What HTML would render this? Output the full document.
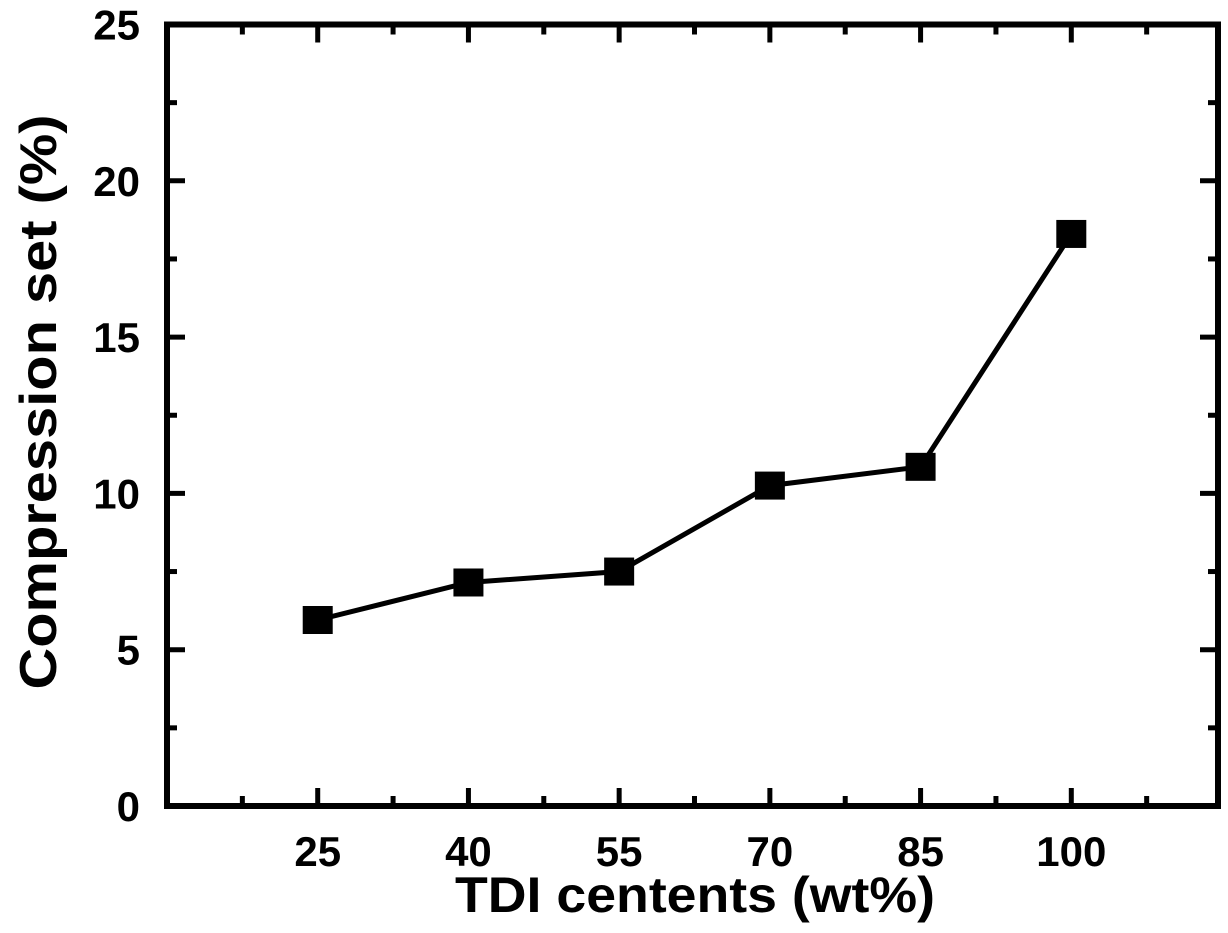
<!DOCTYPE html>
<html><head><meta charset="utf-8"><style>
html,body{margin:0;padding:0;background:#fff;}
svg text{font-family:"Liberation Sans",Arial,sans-serif;font-weight:bold;fill:#000;}
</style></head><body>
<svg id="chart" width="1228" height="928" viewBox="0 0 1228 928" xmlns="http://www.w3.org/2000/svg">
<g id="axes"></g>
<g id="series"></g>
<text x="695" y="912" font-size="50" text-anchor="middle" textLength="480" lengthAdjust="spacingAndGlyphs">TDI centents (wt%)</text>
<text transform="translate(56,402) rotate(-90)" font-size="52" text-anchor="middle" textLength="575" lengthAdjust="spacingAndGlyphs">Compression set (%)</text>
</svg>
<script>
const categories = [25, 40, 55, 70, 85, 100];
const compressionSet = [5.95, 7.15, 7.5, 10.25, 10.85, 18.3];
const xTickLabels = ["25", "40", "55", "70", "85", "100"];
const yTicks = [0, 5, 10, 15, 20, 25];
const yTickLabels = ["0", "5", "10", "15", "20", "25"];

const L=167, R=1218, T=24.5, B=806;
const X0=10, X1=114.6, Y0=0, Y1=25;
const xs = v => L + (v - X0) / (X1 - X0) * (R - L);
const ys = v => B - (v - Y0) / (Y1 - Y0) * (B - T);
const NS = "http://www.w3.org/2000/svg";
function mk(tag, attrs, parent){const e=document.createElementNS(NS,tag);for(const k in attrs)e.setAttribute(k,attrs[k]);parent.appendChild(e);return e;}
const axes=document.getElementById('axes'), series=document.getElementById('series');

const frame = mk('rect',{x:L,y:T,width:R-L,height:B-T,fill:'none',stroke:'#000','stroke-width':6},axes);



for (let i=0;i<categories.length;i++){
  const x=xs(categories[i]);
  [[B,B-18],[T,T+18]].forEach(p=>{const t=mk('line',{x1:x,x2:x,y1:p[0],y2:p[1],stroke:'#000','stroke-width':5},axes);
  
  });
  const lb=mk('text',{x:x,y:866,'font-size':42,'text-anchor':'middle'},axes);
  lb.textContent=xTickLabels[i];
  
  
}
for (let v=X0+7.5; v<X1; v+=15){
  const x=xs(v);
  [[B,B-10],[T,T+10]].forEach(p=>{const t=mk('line',{x1:x,x2:x,y1:p[0],y2:p[1],stroke:'#000','stroke-width':5},axes);
  
  });
}
for (let i=0;i<yTicks.length;i++){
  const y=ys(yTicks[i]);
  [[L,L+18],[R,R-18]].forEach(p=>{const t=mk('line',{x1:p[0],x2:p[1],y1:y,y2:y,stroke:'#000','stroke-width':5},axes);
  
  });
  const lb=mk('text',{x:140,y:y+15,'font-size':42,'text-anchor':'end'},axes);
  lb.textContent=yTickLabels[i];
  
  
  if (i<yTicks.length-1){
    const ym=ys(yTicks[i]+2.5);
    [[L,L+10],[R,R-10]].forEach(p=>{const t=mk('line',{x1:p[0],x2:p[1],y1:ym,y2:ym,stroke:'#000','stroke-width':5},axes);
    
    });
  }
}
const pts=categories.map((c,i)=>xs(c)+','+ys(compressionSet[i])).join(' ');
const pl=mk('polyline',{points:pts,fill:'none',stroke:'#000','stroke-width':5},series);


categories.forEach((c,i)=>{
  const r=mk('rect',{x:xs(c)-15,y:ys(compressionSet[i])-14,width:30,height:28,fill:'#000'},series);
  
  
});
</script>
</body></html>
